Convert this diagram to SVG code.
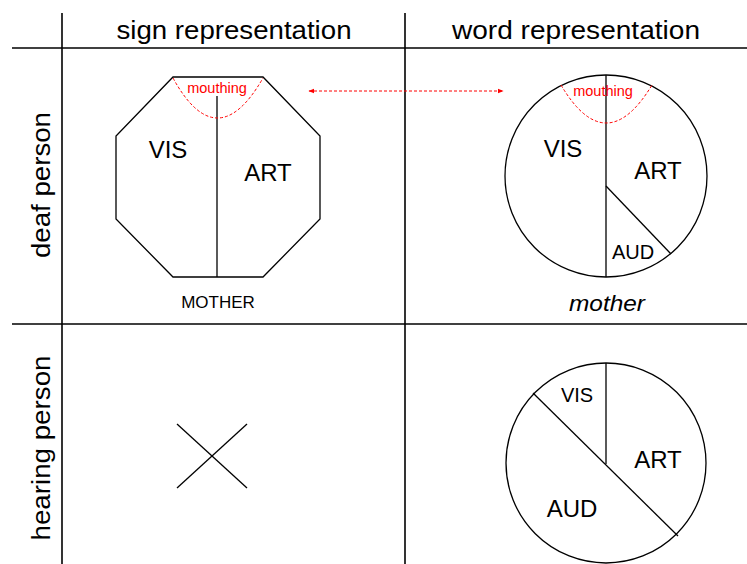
<svg xmlns="http://www.w3.org/2000/svg" width="747" height="564" viewBox="0 0 747 564">
<style>
text{font-family:"Liberation Sans",Arial,sans-serif;fill:#000;text-anchor:middle}
.grid{stroke:#000;stroke-width:1.6;fill:none}
.shape{stroke:#000;stroke-width:1.3;fill:#fff}
.ln{stroke:#000;stroke-width:1.3;fill:none}
.red{stroke:#f00;stroke-width:1;stroke-dasharray:3,2;fill:none}
.hdr{font-size:25px}
.big{font-size:24px}
.mid{font-size:20px}
.mth{font-size:14.5px;fill:#f00}
</style>
<defs>
<marker id="ah" viewBox="0 0 10 10" refX="9" refY="5" markerWidth="6" markerHeight="6" orient="auto-start-reverse">
<path d="M0,1 L10,5 L0,9 z" fill="#f00"/>
</marker>
</defs>
<g id="grid">
<line class="grid" x1="62" y1="13" x2="62" y2="564"/>
<line class="grid" x1="405" y1="13" x2="405" y2="564"/>
<line class="grid" x1="12" y1="48" x2="747" y2="48"/>
<line class="grid" x1="12" y1="324" x2="747" y2="324"/>
</g>
<g id="headers">
<text class="hdr" x="234" y="39" textLength="235" lengthAdjust="spacingAndGlyphs">sign representation</text>
<text class="hdr" x="576" y="39" textLength="248" lengthAdjust="spacingAndGlyphs">word representation</text>
<text class="hdr" transform="translate(50,185) rotate(-90)" textLength="146" lengthAdjust="spacingAndGlyphs">deaf person</text>
<text class="hdr" transform="translate(50,448) rotate(-90)" textLength="185" lengthAdjust="spacingAndGlyphs">hearing person</text>
</g>
<g id="sign-deaf">
<polygon class="shape" points="173,77 263,77 320,136 320,219 263,277 173,277 116,219 116,136"/>
<line class="ln" x1="217" y1="96" x2="217" y2="277"/>
<path class="red" d="M173,78 Q217,158 263,78"/>
<text class="mth" x="217" y="93">mouthing</text>
<text class="big" x="168" y="158">VIS</text>
<text class="big" x="268" y="181">ART</text>
<text x="218" y="308" style="font-size:17px">MOTHER</text>
</g>
<g id="word-deaf">
<circle class="shape" cx="606" cy="176" r="101"/>
<line class="ln" x1="606" y1="75" x2="606" y2="277"/>
<line class="ln" x1="606" y1="186" x2="671" y2="254"/>
<path class="red" d="M561,85 Q606,161 652,85"/>
<text class="mth" x="603" y="96">mouthing</text>
<text class="big" x="563" y="157">VIS</text>
<text class="big" x="658" y="179">ART</text>
<text class="mid" x="633" y="259">AUD</text>
<text x="607" y="311" style="font-style:italic;font-size:22px" textLength="76" lengthAdjust="spacingAndGlyphs">mother</text>
</g>
<g id="sign-hearing">
<line class="ln" x1="177" y1="424" x2="247" y2="488"/>
<line class="ln" x1="247" y1="424" x2="177" y2="488"/>
</g>
<g id="word-hearing">
<circle class="shape" cx="606" cy="463" r="100"/>
<line class="ln" x1="606" y1="363" x2="606" y2="464"/>
<line class="ln" x1="533" y1="393" x2="678" y2="536"/>
<text class="mid" x="577" y="402">VIS</text>
<text class="big" x="658" y="468">ART</text>
<text class="big" x="572" y="517">AUD</text>
</g>
<g id="connectors">
<line class="red" x1="309" y1="91" x2="503" y2="91" marker-start="url(#ah)" marker-end="url(#ah)"/>
</g>
</svg>
